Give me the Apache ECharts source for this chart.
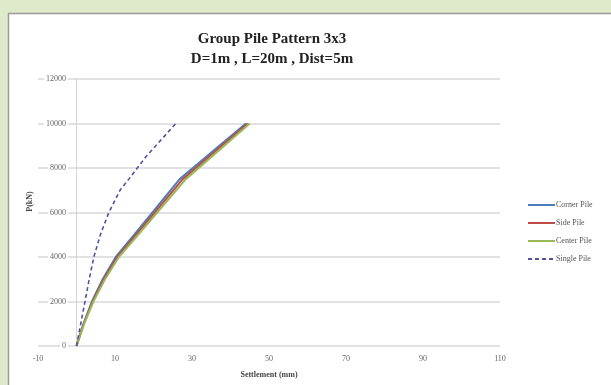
<!DOCTYPE html>
<html>
<head>
<meta charset="utf-8">
<script src="https://cdn.jsdelivr.net/npm/echarts@6/dist/echarts.min.js"></script>
<style>
  html, body { margin: 0; padding: 0; background: #dfeaca; }
  #chart { width: 611px; height: 385px; }
</style>
</head>
<body>
<div id="chart"></div>
<script>
// load steps (kN) for group piles
var groupLoads = [0, 1000, 2000, 3000, 4000, 5000, 7500, 10000];
// settlement (mm)
var cornerPile = [0, 1.8, 4.0, 6.8, 10.2, 15.0, 26.8, 44.0];
var sidePile   = [0, 1.9, 4.2, 7.1, 10.6, 15.5, 27.6, 44.5];
var centerPile = [0, 2.0, 4.4, 7.4, 11.0, 16.0, 28.4, 45.0];

var singleLoads = [0, 1000, 2000, 3000, 4000, 5000, 6000, 7000, 7500, 8500, 10000];
var singlePile  = [0, 1.1, 2.2, 3.3, 4.5, 6.2, 8.4, 11.3, 13.6, 18.0, 25.8];

var seriesNames = ['Corner Pile', 'Side Pile', 'Center Pile', 'Single Pile'];
var xTicks = [-10, 110, 20];
var yTicks = [0, 12000, 2000];

function pairs(xs, ys) {
  return xs.map(function (x, i) { return [x, ys[i]]; });
}

var myChart = echarts.init(document.getElementById('chart'));
var serif = '"Liberation Serif", "DejaVu Serif", serif';

myChart.setOption({
  backgroundColor: '#dfeaca',
  animation: false,
  graphic: [
    {
      type: 'rect',
      z: -10,
      shape: { x: 8.5, y: 13.5, width: 620, height: 400 },
      style: { fill: '#ffffff', stroke: '#9a9a9a', lineWidth: 1.5 }
    }
  ],
  title: {
    text: 'Group Pile Pattern 3x3\nD=1m , L=20m , Dist=5m',
    left: 267,
    top: 24,
    textAlign: 'center',
    textStyle: {
      fontFamily: serif,
      fontWeight: 'bold',
      fontSize: 15,
      lineHeight: 20,
      color: '#222'
    }
  },
  legend: {
    orient: 'vertical',
    left: 522,
    top: 196,
    itemWidth: 27,
    itemHeight: 8,
    itemGap: 10,
    itemStyle: { opacity: 0 },
    textStyle: { fontFamily: serif, fontSize: 8, color: '#555', padding: [0, 0, 0, -4] },
    data: seriesNames
  },
  grid: { left: 38, right: 111, top: 79, bottom: 39, containLabel: false, outerBoundsMode: 'none' },
  xAxis: {
    type: 'value',
    min: xTicks[0],
    max: xTicks[1],
    interval: xTicks[2],
    name: 'Settlement (mm)',
    nameLocation: 'middle',
    nameGap: 25,
    nameTextStyle: { fontFamily: serif, fontWeight: 'bold', fontSize: 8, color: '#444' },
    axisLine: { show: false },
    axisTick: { show: false },
    axisLabel: { fontFamily: serif, fontSize: 8, color: '#666', margin: 9 },
    splitLine: { show: false }
  },
  yAxis: {
    type: 'value',
    min: yTicks[0],
    max: yTicks[1],
    interval: yTicks[2],
    name: 'P(kN)',
    nameLocation: 'middle',
    nameGap: 4,
    nameMoveOverlap: false,
    nameTextStyle: {
      fontFamily: serif, fontWeight: 'bold', fontSize: 8, color: '#444',
      padding: [0, 0, 0, 22]
    },
    axisLine: { show: true, onZero: true, lineStyle: { color: '#d4d4d4', width: 1 } },
    axisTick: { show: false },
    axisLabel: {
      fontFamily: serif, fontSize: 8, color: '#666', margin: -30,
      backgroundColor: '#ffffff', padding: [0, 2, 0, 2],
      formatter: function (v) { return String(v); }
    },
    splitLine: { show: true, lineStyle: { color: '#d9d9d9', width: 1.5 } }
  },
  series: [
    {
      name: seriesNames[0], type: 'line', symbol: 'none',
      lineStyle: { color: '#4a7ebb', width: 2 }, itemStyle: { color: '#4a7ebb' },
      data: pairs(cornerPile, groupLoads)
    },
    {
      name: seriesNames[1], type: 'line', symbol: 'none',
      lineStyle: { color: '#be4b48', width: 2 }, itemStyle: { color: '#be4b48' },
      data: pairs(sidePile, groupLoads)
    },
    {
      name: seriesNames[2], type: 'line', symbol: 'none',
      lineStyle: { color: '#98b954', width: 2 }, itemStyle: { color: '#98b954' },
      data: pairs(centerPile, groupLoads)
    },
    {
      name: seriesNames[3], type: 'line', symbol: 'none',
      lineStyle: { color: '#5252a3', width: 1.6, type: [4, 3] }, itemStyle: { color: '#5252a3' },
      data: pairs(singlePile, singleLoads)
    }
  ]
});
</script>
</body>
</html>
